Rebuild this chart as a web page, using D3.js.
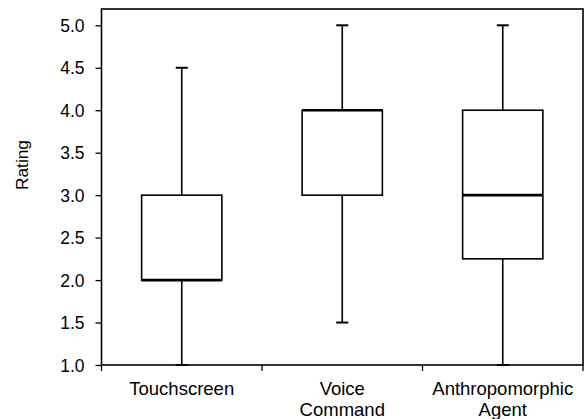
<!DOCTYPE html>
<html>
<head>
<meta charset="utf-8">
<script src="https://cdn.jsdelivr.net/npm/d3@7"></script>
<style>
  body { margin: 0; background: #fff; }
  text { font-family: "Liberation Sans", Arial, sans-serif; fill: #000; }
</style>
</head>
<body>
<div id="chart"></div>
<script>
// box plot values
const categories = ['Touchscreen', 'Voice\nCommand', 'Anthropomorphic\nAgent']
const mins = [1.0, 1.5, 1.0]
const q1s = [2.0, 3.0, 2.25]
const medians = [2.0, 4.0, 3.0]
const q3s = [3.0, 4.0, 4.0]
const maxs = [4.5, 5.0, 5.0]
const yTicks = [1.0, 1.5, 2.0, 2.5, 3.0, 3.5, 4.0, 4.5, 5.0]

const width = 584, height = 419
const margin = { top: 9, right: 1, bottom: 54, left: 101.5 }

const svg = d3.select('#chart')
  .append('svg')
  .attr('width', width)
  .attr('height', height)

const x = d3.scaleBand()
  .domain(categories)
  .range([margin.left, width - margin.right])
  .padding(0)

const y = d3.scaleLinear()
  .domain([1, 5.192])
  .range([height - margin.bottom, margin.top])

// y axis
const yAxis = svg.append('g')
  .attr('transform', `translate(${margin.left},0)`)
  .call(d3.axisLeft(y).tickValues(yTicks).tickFormat(d3.format('.1f')).tickSize(6).tickPadding(11))
yAxis.select('.domain').remove()
yAxis.selectAll('line').attr('stroke', '#000').attr('stroke-width', 1.3)
yAxis.selectAll('text').style('font-size', '17.5px').attr('dy', '0.35em')

// x axis ticks at the band edges
const edges = x.domain().map(d => x(d)).concat([x.range()[1]])
svg.append('g').selectAll('line')
  .data(edges)
  .enter().append('line')
  .attr('x1', d => d).attr('x2', d => d)
  .attr('y1', y(1)).attr('y2', y(1) + 6)
  .attr('stroke', '#000').attr('stroke-width', 1.3)

const labels = svg.append('g').selectAll('text')
  .data(categories)
  .enter().append('text')
  .attr('text-anchor', 'middle')
  .style('font-size', '18.5px')
  .attr('transform', d => `translate(${x(d) + x.bandwidth() / 2},${y(1) + 29.5})`)
labels.selectAll('tspan')
  .data(d => d.split('\n'))
  .enter().append('tspan')
  .attr('x', 0)
  .attr('dy', (d, i) => i === 0 ? 0 : 21)
  .text(d => d)

// frame
svg.append('rect')
  .attr('x', margin.left)
  .attr('y', margin.top)
  .attr('width', x.range()[1] - margin.left)
  .attr('height', y(1) - margin.top)
  .attr('fill', 'none')
  .attr('stroke', '#000')
  .attr('stroke-width', 1.6)

// boxes
const boxW = x.bandwidth() * 0.5
const capW = 12
const boxes = svg.append('g').selectAll('g')
  .data(categories.map((c, i) => ({ c, min: mins[i], q1: q1s[i], med: medians[i], q3: q3s[i], max: maxs[i] })))
  .enter().append('g')
  .attr('transform', d => `translate(${x(d.c) + x.bandwidth() / 2},0)`)

// whiskers
boxes.append('line')
  .attr('x1', 0).attr('x2', 0)
  .attr('y1', d => y(d.max)).attr('y2', d => y(d.q3))
  .attr('stroke', '#000').attr('stroke-width', 1.6)
boxes.append('line')
  .attr('x1', 0).attr('x2', 0)
  .attr('y1', d => y(d.q1)).attr('y2', d => y(d.min))
  .attr('stroke', '#000').attr('stroke-width', 1.6)
boxes.append('line')
  .attr('x1', -capW / 2).attr('x2', capW / 2)
  .attr('y1', d => y(d.max)).attr('y2', d => y(d.max))
  .attr('stroke', '#000').attr('stroke-width', 2)
boxes.append('line')
  .attr('x1', -capW / 2).attr('x2', capW / 2)
  .attr('y1', d => y(d.min)).attr('y2', d => y(d.min))
  .attr('stroke', '#000').attr('stroke-width', 2)

boxes.append('rect')
  .attr('x', -boxW / 2)
  .attr('width', boxW)
  .attr('y', d => y(d.q3))
  .attr('height', d => y(d.q1) - y(d.q3))
  .attr('fill', '#fff')
  .attr('stroke', '#000')
  .attr('stroke-width', 1.6)

boxes.append('line')
  .attr('x1', -boxW / 2).attr('x2', boxW / 2)
  .attr('y1', d => y(d.med)).attr('y2', d => y(d.med))
  .attr('stroke', '#000').attr('stroke-width', 2.6)

// y label
svg.append('text')
  .attr('transform', `translate(28,165) rotate(-90)`)
  .attr('text-anchor', 'middle')
  .style('font-size', '17.3px')
  .text('Rating')
</script>
</body>
</html>
